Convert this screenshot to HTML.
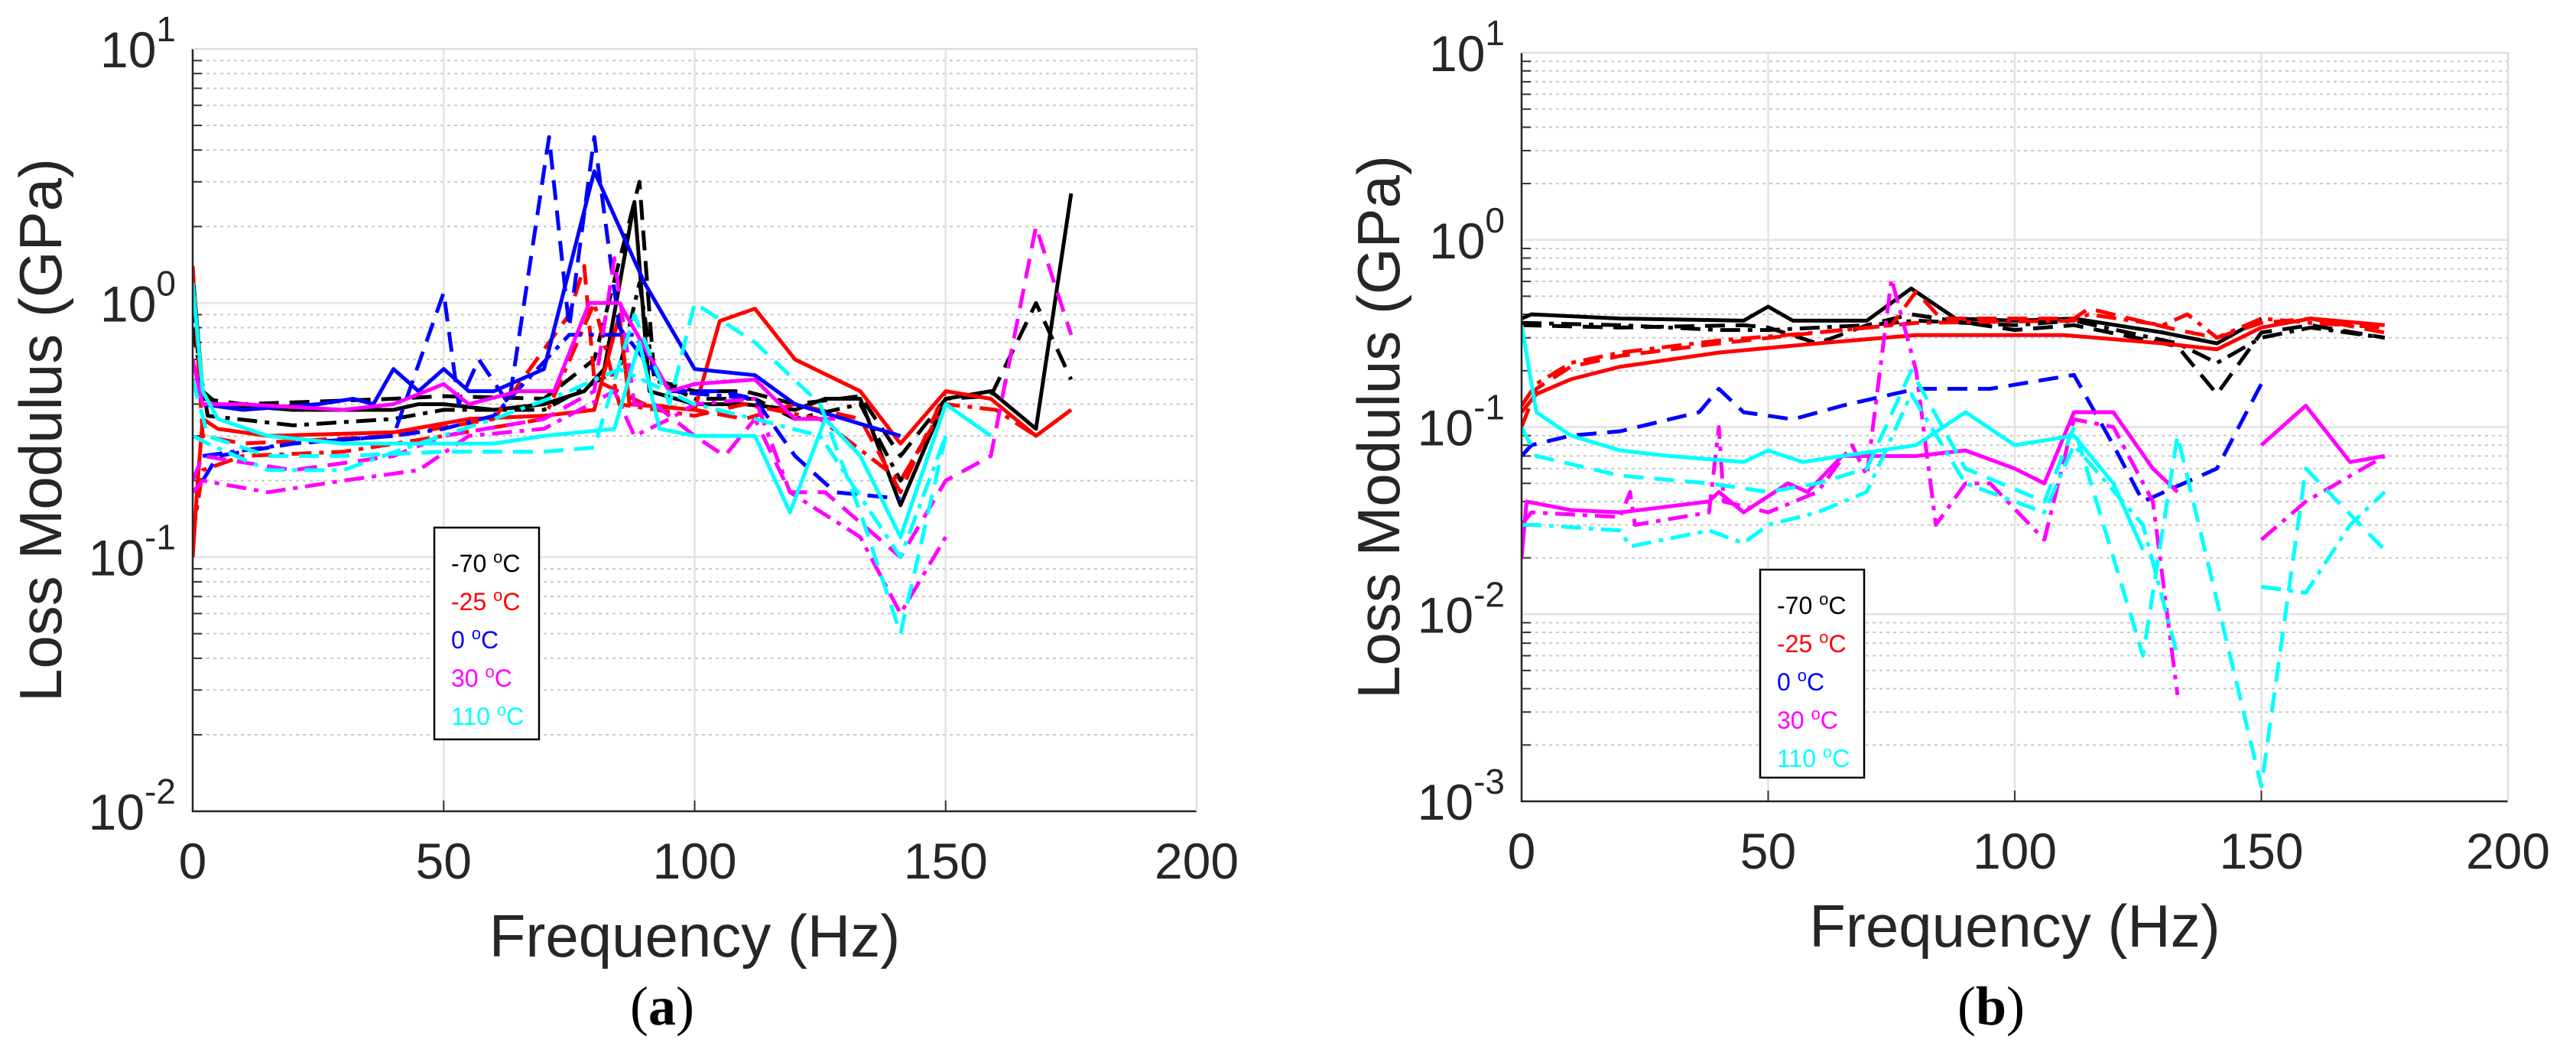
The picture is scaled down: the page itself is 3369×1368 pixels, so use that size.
<!DOCTYPE html>
<html><head><meta charset="utf-8">
<style>
html,body{margin:0;padding:0;background:#fff;}
svg{display:block;font-family:"Liberation Sans",sans-serif;}
</style></head>
<body>
<svg id="fig" width="3369" height="1368" viewBox="0 0 3369 1368" xmlns="http://www.w3.org/2000/svg"></svg>
<script>
// ---- data (frequency Hz, loss modulus GPa) ----
const xTicks = [0, 50, 100, 150, 200];
const legendLabels = ["-70", "-25", "0", "30", "110"];
const seriesColors = ["#000000", "#ff0000", "#0000ff", "#ff00ff", "#00ffff"];

// Panel (a)
const aBlackSolid = [[0,1.3],[2,0.45],[5,0.40],[20,0.38],[40,0.38],[45,0.40],[50,0.40],[60,0.38],[70,0.40],[78,0.45],[82,0.55],[88,2.5],[91,0.45],[100,0.40],[110,0.40],[120,0.38],[126,0.42],[133,0.42],[141,0.16],[150,0.42],[159,0.45],[168,0.32],[175,2.7]];
const aBlackDash = [[0,1.0],[2,0.42],[10,0.40],[40,0.42],[50,0.43],[70,0.42],[80,0.6],[89,3.0],[92,0.5],[100,0.45],[110,0.45],[120,0.40],[133,0.43],[141,0.25],[150,0.42],[159,0.43],[168,1.0],[175,0.5]];
const aBlackDot = [[0,0.8],[3,0.36],[20,0.33],[40,0.35],[50,0.38],[70,0.38],[85,0.55],[89,1.2],[92,0.5],[100,0.42],[112,0.42],[120,0.35],[133,0.40],[141,0.20],[150,0.40]];
const aRedSolid = [[0,0.1],[1,0.2],[2,0.35],[5,0.32],[15,0.3],[40,0.31],[55,0.35],[70,0.36],[80,0.38],[85,0.9],[87,0.40],[100,0.38],[105,0.85],[112,0.95],[120,0.6],[133,0.45],[141,0.28],[150,0.45],[159,0.42],[168,0.30],[175,0.38]];
const aRedDash = [[0,1.4],[2,0.3],[10,0.28],[40,0.30],[60,0.35],[75,0.9],[78,1.4],[80,0.5],[90,0.40],[100,0.38],[110,0.35],[120,0.40],[133,0.35],[141,0.18],[150,0.45]];
const aRedDot = [[0,0.12],[2,0.22],[10,0.25],[30,0.26],[50,0.30],[70,0.35],[80,1.0],[85,0.4],[100,0.36],[110,0.40],[125,0.35],[141,0.20],[150,0.40],[160,0.38],[168,0.30],[175,0.38]];
const aBlueSolid = [[2,0.4],[10,0.38],[25,0.40],[32,0.42],[36,0.40],[40,0.55],[45,0.45],[50,0.55],[55,0.45],[60,0.45],[70,0.55],[80,3.3],[90,1.2],[100,0.55],[112,0.52],[120,0.40],[141,0.30]];
const aBlueDash = [[2,0.2],[5,0.25],[20,0.28],[40,0.30],[50,1.1],[53,0.40],[57,0.60],[63,0.40],[71,4.5],[75,0.8],[80,4.5],[85,0.8],[95,0.45],[105,0.45],[112,0.42],[120,0.25],[128,0.18],[141,0.17]];
const aBlueDot = [[2,0.25],[20,0.28],[40,0.30],[50,0.32],[60,0.36],[75,0.75],[80,0.75],[88,0.75],[95,0.45],[112,0.42]];
const aMagSolid = [[0,0.6],[2,0.4],[10,0.40],[30,0.38],[40,0.40],[50,0.48],[55,0.40],[65,0.45],[72,0.45],[79,1.0],[85,1.0],[95,0.45],[100,0.48],[112,0.50],[120,0.35],[128,0.35]];
const aMagDash = [[0,0.2],[2,0.25],[20,0.22],[40,0.25],[50,0.30],[70,0.35],[80,0.45],[84,1.5],[88,0.40],[92,0.40],[100,0.30],[106,0.25],[112,0.35],[119,0.18],[126,0.18],[141,0.10],[150,0.20],[159,0.25],[168,2.0],[175,0.75]];
const aMagDot = [[0,0.18],[2,0.20],[15,0.18],[30,0.20],[45,0.22],[55,0.30],[70,0.32],[84,0.45],[88,0.30],[95,0.35],[100,0.40],[112,0.42],[119,0.18],[133,0.12],[141,0.06],[150,0.12]];
const aCyanSolid = [[0,1.2],[2,0.45],[5,0.35],[15,0.30],[30,0.28],[50,0.28],[60,0.28],[70,0.30],[84,0.32],[89,0.70],[93,0.32],[100,0.30],[112,0.30],[119,0.15],[126,0.35],[133,0.25],[141,0.12],[150,0.40],[159,0.30]];
const aCyanDash = [[0,0.5],[3,0.30],[15,0.25],[30,0.25],[50,0.26],[70,0.26],[80,0.27],[88,0.9],[95,0.40],[100,1.0],[112,0.70],[125,0.40],[133,0.15],[141,0.05],[150,0.30]];
const aCyanDot = [[0,0.3],[3,0.28],[15,0.22],[30,0.22],[45,0.28],[60,0.35],[75,0.45],[85,0.55],[100,0.40],[112,0.35],[125,0.30],[141,0.10],[150,0.30]];

// Panel (b)
const bBlackSolid = [[0,0.38],[2,0.40],[20,0.38],[45,0.37],[50,0.44],[55,0.37],[70,0.37],[79,0.55],[88,0.38],[100,0.37],[112,0.38],[130,0.32],[141,0.28],[150,0.38]];
const bBlackDash = [[0,0.35],[20,0.34],[45,0.35],[50,0.34],[60,0.28],[70,0.35],[79,0.40],[100,0.33],[112,0.35],[133,0.27],[141,0.15],[150,0.32],[160,0.35],[175,0.30]];
const bBlackDot = [[0,0.36],[20,0.35],[40,0.33],[50,0.33],[70,0.35],[80,0.37],[100,0.35],[112,0.37],[133,0.28],[141,0.22],[150,0.30],[160,0.34],[175,0.30]];
const bRedSolid = [[0,0.12],[3,0.15],[10,0.18],[20,0.21],[40,0.25],[60,0.28],[80,0.31],[110,0.31],[130,0.28],[141,0.26],[150,0.34],[160,0.38],[175,0.35]];
const bRedDash = [[0,0.10],[3,0.16],[10,0.21],[20,0.24],[40,0.28],[60,0.32],[75,0.35],[80,0.53],[85,0.38],[112,0.38],[115,0.43],[133,0.33],[141,0.30],[150,0.36],[160,0.38],[175,0.32]];
const bRedDot = [[0,0.13],[3,0.17],[10,0.22],[20,0.25],[40,0.29],[60,0.32],[80,0.36],[112,0.37],[115,0.40],[130,0.35],[135,0.40],[141,0.30],[150,0.38],[160,0.36],[175,0.34]];
const bBlueDash = [[0,0.07],[2,0.08],[10,0.09],[20,0.095],[36,0.12],[40,0.16],[45,0.12],[55,0.11],[65,0.13],[80,0.16],[95,0.16],[112,0.19],[120,0.08],[126,0.04],[141,0.06],[150,0.17]];
const bMagSolid = [[0,0.02],[1,0.04],[10,0.036],[20,0.035],[38,0.04],[40,0.045],[45,0.035],[54,0.05],[58,0.045],[65,0.07],[70,0.07],[80,0.07],[90,0.075],[100,0.06],[106,0.05],[112,0.12],[120,0.12],[128,0.06],[133,0.045],null,[150,0.08],[159,0.13],[168,0.065],[175,0.07]];
const bMagDot = [[0,0.03],[2,0.035],[20,0.033],[22,0.045],[23,0.03],[38,0.035],[40,0.10],[41,0.04],[50,0.035],[60,0.045],[67,0.08],[70,0.055],[75,0.62],[80,0.20],[84,0.03],[90,0.05],[95,0.05],[106,0.025],[112,0.11],[120,0.10],[128,0.04],[133,0.0037],null,[150,0.025],[159,0.04],[175,0.07]];
const bCyanSolid = [[0,0.35],[3,0.12],[10,0.09],[20,0.075],[30,0.07],[45,0.065],[50,0.075],[57,0.065],[65,0.07],[80,0.08],[90,0.12],[100,0.08],[112,0.09],[120,0.05],[126,0.022]];
const bCyanDash = [[0,0.1],[3,0.07],[20,0.055],[38,0.05],[50,0.045],[60,0.05],[70,0.06],[79,0.20],[90,0.06],[106,0.04],[112,0.10],[126,0.006],[133,0.09],[150,0.0012],[159,0.06],[175,0.022]];
const bCyanDot = [[0,0.03],[3,0.03],[20,0.028],[22,0.023],[38,0.028],[45,0.024],[50,0.03],[60,0.035],[70,0.045],[79,0.15],[90,0.05],[106,0.035],[112,0.08],[126,0.03],[133,0.006],null,[150,0.014],[159,0.013],[168,0.03],[175,0.045]];

const NS = "http://www.w3.org/2000/svg";
const svg = document.getElementById("fig");
function mk(tag, attrs, parent) {
  const e = document.createElementNS(NS, tag);
  for (const k in attrs) e.setAttribute(k, attrs[k]);
  (parent || svg).appendChild(e);
  return e;
}
const DASH = {solid: "", dash: "26,14", dot: "26,10,6,10"};

function drawPanel(p) {
  const g = mk("g", {});
  
  
  const L = p.L, R = p.R, T = p.T, B = p.B;
  const nDec = p.maxExp - p.minExp;
  const xS = v => L + (v - 0) / 200 * (R - L);
  const yS = v => B - (Math.log10(v) - p.minExp) / nDec * (B - T);
  for (let e = p.minExp; e < p.maxExp; e++) {
    for (let m = 2; m <= 9; m++) {
      const y = yS(m * Math.pow(10, e));
      const ln = mk("line", {x1: L, x2: R, y1: y, y2: y, stroke: "#c8c8c8", "stroke-width": 2, "stroke-dasharray": "4,5"}, g);
      
      
      mk("line", {x1: L, x2: L + 12, y1: y, y2: y, stroke: "#333", "stroke-width": 2}, g);
    }
  }
  for (let e = p.minExp; e <= p.maxExp; e++) {
    const y = yS(Math.pow(10, e));
    const ln = mk("line", {x1: L, x2: R, y1: y, y2: y, stroke: "#e2e2e2", "stroke-width": 2.5}, g);
    
    
    const t = mk("text", {x: L - 22, y: y + 24, "text-anchor": "end", "font-size": 66, fill: "#262626"}, g);
    
    
    t.textContent = "10";
    const s = mk("tspan", {dy: -34, "font-size": 46}, t);
    s.textContent = String(e);
  }
  xTicks.forEach(v => {
    const x = xS(v);
    const ln = mk("line", {x1: x, x2: x, y1: T, y2: B, stroke: "#e2e2e2", "stroke-width": 2.5}, g);
    
    
    mk("line", {x1: x, x2: x, y1: B, y2: B - 14, stroke: "#333", "stroke-width": 2}, g);
    const t = mk("text", {x: x, y: B + 88, "text-anchor": "middle", "font-size": 66, fill: "#262626"}, g);
    
    
    t.textContent = String(v);
  });
  const clip = "clip-" + p.name;
  const cp = mk("clipPath", {id: clip}, g);
  mk("rect", {x: L, y: T, width: R - L, height: B - T}, cp);
  p.series.forEach(s => {
    let d = "", pen = false;
    s.data.forEach(pt => {
      if (pt === null) { pen = false; return; }
      d += (pen ? "L" : "M") + xS(pt[0]).toFixed(1) + "," + yS(pt[1]).toFixed(1);
      pen = true;
    });
    const path = mk("path", {d: d, fill: "none", stroke: seriesColors[s.c], "stroke-width": 5, "stroke-linejoin": "round", "stroke-dasharray": DASH[s.st], "clip-path": "url(#" + clip + ")"}, g);
    
    
  });
  const ax = mk("path", {d: `M${L},${T}L${L},${B}L${R},${B}`, fill: "none", stroke: "#262626", "stroke-width": 2.5}, g);
  
  
  mk("path", {d: `M${L},${T}L${R},${T}L${R},${B}`, fill: "none", stroke: "#dcdcdc", "stroke-width": 2}, g);
  const xt = mk("text", {x: (L + R) / 2, y: B + 190, "text-anchor": "middle", "font-size": 78, fill: "#262626"}, g);
  
  
  xt.textContent = "Frequency (Hz)";
  const yt = mk("text", {x: 0, y: 0, transform: `translate(${p.ytx},${(T + B) / 2}) rotate(-90)`, "text-anchor": "middle", "font-size": 78, fill: "#262626"}, g);
  
  
  yt.textContent = "Loss Modulus (GPa)";
  const cap = mk("text", {x: p.capX, y: 1340, "text-anchor": "middle", "font-size": 72, "font-family": "Liberation Serif, serif", fill: "#000"}, g);
  
  
  cap.appendChild(document.createTextNode("("));
  const bb = mk("tspan", {"font-weight": "bold"}, cap); bb.textContent = p.cap;
  cap.appendChild(document.createTextNode(")"));
  const lg = mk("g", {}, g);
  
  
  mk("rect", {x: p.lg[0], y: p.lg[1], width: p.lg[2], height: p.lg[3], fill: "#fff", stroke: "#000", "stroke-width": 2.5}, lg);
  legendLabels.forEach((lab, i) => {
    const t = mk("text", {x: p.lg[0] + 22, y: p.lg[1] + 58 + i * 50, "font-size": 32, fill: seriesColors[i]}, lg);
    
    
    t.textContent = lab + " ";
    const o = mk("tspan", {dy: -12, "font-size": 22}, t); o.textContent = "o";
    const c = mk("tspan", {dy: 12}, t); c.textContent = "C";
  });
}

drawPanel({name: "panel-a", cap: "a", L: 252, R: 1565, T: 64, B: 1061, minExp: -2, maxExp: 1, ytx: 80, capX: 866,
  lg: [568, 690, 137, 277],
  series: [
    {n: "a-neg70-solid", c: 0, st: "solid", data: aBlackSolid},
    {n: "a-neg70-dash", c: 0, st: "dash", data: aBlackDash},
    {n: "a-neg70-dashdot", c: 0, st: "dot", data: aBlackDot},
    {n: "a-neg25-solid", c: 1, st: "solid", data: aRedSolid},
    {n: "a-neg25-dash", c: 1, st: "dash", data: aRedDash},
    {n: "a-neg25-dashdot", c: 1, st: "dot", data: aRedDot},
    {n: "a-0-solid", c: 2, st: "solid", data: aBlueSolid},
    {n: "a-0-dash", c: 2, st: "dash", data: aBlueDash},
    {n: "a-0-dashdot", c: 2, st: "dot", data: aBlueDot},
    {n: "a-30-solid", c: 3, st: "solid", data: aMagSolid},
    {n: "a-30-dash", c: 3, st: "dash", data: aMagDash},
    {n: "a-30-dashdot", c: 3, st: "dot", data: aMagDot},
    {n: "a-110-solid", c: 4, st: "solid", data: aCyanSolid},
    {n: "a-110-dash", c: 4, st: "dash", data: aCyanDash},
    {n: "a-110-dashdot", c: 4, st: "dot", data: aCyanDot}
  ]});
drawPanel({name: "panel-b", cap: "b", L: 1990, R: 3280, T: 69, B: 1048, minExp: -3, maxExp: 1, ytx: 1830, capX: 2604,
  lg: [2302, 745, 136, 272],
  series: [
    {n: "b-neg70-solid", c: 0, st: "solid", data: bBlackSolid},
    {n: "b-neg70-dash", c: 0, st: "dash", data: bBlackDash},
    {n: "b-neg70-dashdot", c: 0, st: "dot", data: bBlackDot},
    {n: "b-neg25-solid", c: 1, st: "solid", data: bRedSolid},
    {n: "b-neg25-dash", c: 1, st: "dash", data: bRedDash},
    {n: "b-neg25-dashdot", c: 1, st: "dot", data: bRedDot},
    {n: "b-0-dash", c: 2, st: "dash", data: bBlueDash},
    {n: "b-30-solid", c: 3, st: "solid", data: bMagSolid},
    {n: "b-30-dashdot", c: 3, st: "dot", data: bMagDot},
    {n: "b-110-solid", c: 4, st: "solid", data: bCyanSolid},
    {n: "b-110-dash", c: 4, st: "dash", data: bCyanDash},
    {n: "b-110-dashdot", c: 4, st: "dot", data: bCyanDot}
  ]});
</script>
</body></html>
